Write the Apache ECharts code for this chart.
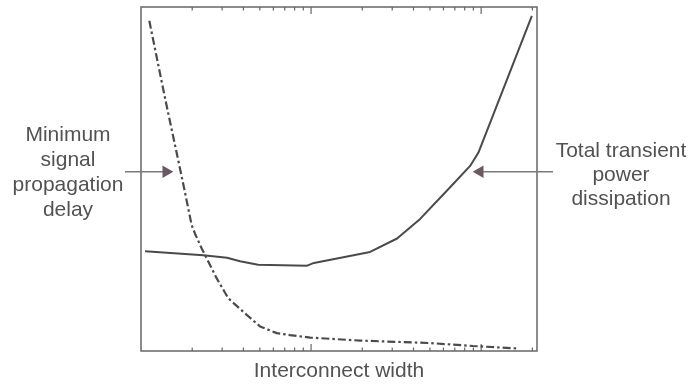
<!DOCTYPE html>
<html>
<head>
<meta charset="utf-8">
<script src="https://cdn.jsdelivr.net/npm/echarts@6/dist/echarts.min.js"></script>
<style>
  html, body { margin: 0; padding: 0; background: #ffffff; }
  #chart { width: 692px; height: 387px; }
</style>
</head>
<body>
<div id="chart"></div>
<script>
// Interconnect width (log scale) and the two competing quantities
const delayWidth = [1.119, 1.39, 1.73, 1.988, 2.078, 2.275, 2.435, 2.789, 3.263, 4.185, 5.012, 6.285, 7.52, 9.865, 19.42, 50.1, 89.7, 165.1];
const delayValue = [96.0, 73.1, 51.0, 36.5, 34.1, 29.8, 26.9, 21.1, 15.3, 10.5, 7.14, 5.2, 4.62, 3.9, 3.03, 2.31, 1.45, 0.72];

const powerWidth = [1.056, 2.325, 3.205, 3.823, 4.878, 9.474, 10.4, 22.24, 32.05, 43.78, 65.7, 86.15, 96.4, 198.7];
const powerValue = [29.0, 27.8, 27.1, 26.1, 25.1, 24.8, 25.6, 28.8, 32.7, 38.4, 47.6, 53.8, 57.7, 97.4];

// Log-axis tick positions (decades and in-between values)
const majorTicks = [10, 100];
const minorTicks = [2, 3, 4, 5, 6, 7, 8, 9, 20, 30, 40, 50, 60, 70, 80, 90, 200];

const xLabel = 'Interconnect width';
const leftNote = ['Minimum', 'signal', 'propagation', 'delay'];
const rightNote = ['Total transient', 'power', 'dissipation'];

const FONT = '"Liberation Sans", Arial, Helvetica, sans-serif';
const INK = '#4a4a4a';
const TEXT = '#525252';
const ARROW_LINE = '#7a7a7a';
const ARROW_HEAD = '#6b5866';

function pairs(xs, ys) { return xs.map((x, i) => [x, ys[i]]); }

function tickSeries(values, len) {
  return {
    type: 'custom',
    silent: true,
    data: values.map(v => [v]),
    encode: { x: 0 },
    renderItem: function (params, api) {
      const cs = params.coordSys;
      const px = api.coord([api.value(0), 0])[0];
      const st = { stroke: '#666', lineWidth: 1.2 };
      const top = cs.y, bot = cs.y + cs.height;
      return {
        type: 'group',
        children: [
          { type: 'line', shape: { x1: px, y1: top, x2: px, y2: top + len }, style: st },
          { type: 'line', shape: { x1: px, y1: bot, x2: px, y2: bot - len }, style: st }
        ]
      };
    },
    z: 3
  };
}

const chart = echarts.init(document.getElementById('chart'), null, { renderer: 'canvas' });

chart.setOption({
  animation: false,
  backgroundColor: '#ffffff',
  grid: {
    left: 141, top: 7, width: 396, height: 346,
    show: true, borderColor: '#666', borderWidth: 1.5, backgroundColor: 'transparent'
  },
  xAxis: {
    type: 'log', logBase: 10, min: 1, max: 213,
    axisLine: { show: false }, axisTick: { show: false },
    axisLabel: { show: false }, splitLine: { show: false },
    name: xLabel, nameLocation: 'middle', nameGap: 10,
    nameTextStyle: { fontFamily: FONT, fontSize: 21, color: TEXT, verticalAlign: 'top' }
  },
  yAxis: {
    type: 'value', min: 0, max: 100,
    axisLine: { show: false }, axisTick: { show: false },
    axisLabel: { show: false }, splitLine: { show: false }
  },
  series: [
    {
      type: 'line', data: pairs(delayWidth, delayValue),
      symbol: 'none', smooth: false,
      lineStyle: { color: INK, width: 2.2, type: [8, 3, 2.5, 3] }, z: 4
    },
    {
      type: 'line', data: pairs(powerWidth, powerValue),
      symbol: 'none', smooth: false,
      lineStyle: { color: INK, width: 2 }, z: 4
    },
    tickSeries(minorTicks, 3.5),
    tickSeries(majorTicks, 7)
  ],
  graphic: [
    {
      type: 'text', x: 68, y: 173,
      style: {
        text: leftNote.join('\n'), fontFamily: FONT, fontSize: 21, lineHeight: 25,
        fill: TEXT, align: 'center', verticalAlign: 'middle'
      }
    },
    {
      type: 'text', x: 621, y: 175,
      style: {
        text: rightNote.join('\n'), fontFamily: FONT, fontSize: 21, lineHeight: 24,
        fill: TEXT, align: 'center', verticalAlign: 'middle'
      }
    },
    // arrow toward the delay curve
    { type: 'line', shape: { x1: 125, y1: 171.7, x2: 164, y2: 171.7 }, style: { stroke: ARROW_LINE, lineWidth: 1.5 }, z: 5 },
    { type: 'polygon', shape: { points: [[173.3, 171.7], [162.5, 165.5], [162.5, 178]] }, style: { fill: ARROW_HEAD }, z: 5 },
    // arrow toward the power curve
    { type: 'line', shape: { x1: 553, y1: 171.7, x2: 482, y2: 171.7 }, style: { stroke: ARROW_LINE, lineWidth: 1.5 }, z: 5 },
    { type: 'polygon', shape: { points: [[472.7, 171.7], [483.5, 165.5], [483.5, 178]] }, style: { fill: ARROW_HEAD }, z: 5 }
  ]
});
</script>
</body>
</html>
